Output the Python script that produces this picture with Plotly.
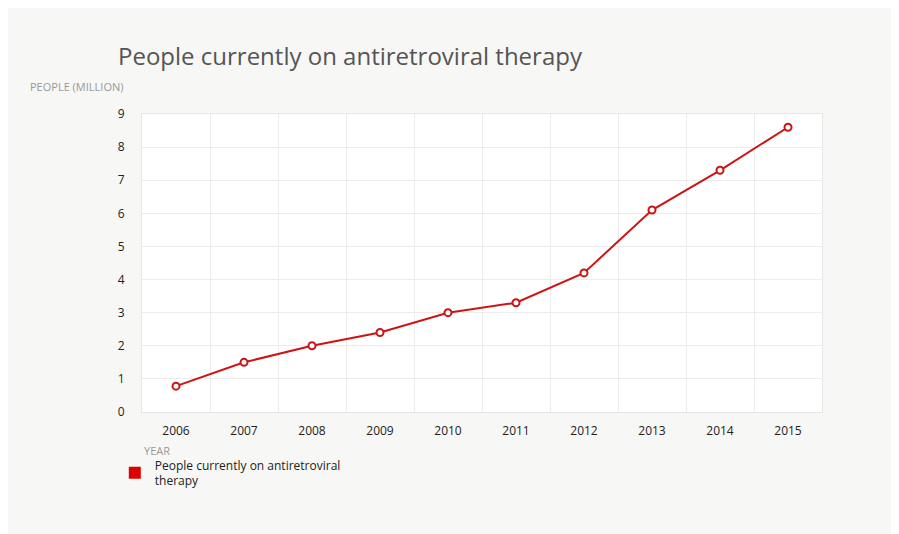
import plotly.graph_objects as go

years = [2006, 2007, 2008, 2009, 2010, 2011, 2012, 2013, 2014, 2015]
people = [0.78, 1.5, 2.0, 2.4, 3.0, 3.3, 4.2, 6.1, 7.3, 8.6]
series_name = "People currently on antiretroviral therapy"
red = "#cc1414"

fig = go.Figure()
fig.add_trace(go.Scatter(x=years, y=people, mode="lines+markers", showlegend=False,
                         line=dict(color=red, width=2),
                         marker=dict(size=7, color="white", line=dict(color=red, width=2))))
fig.add_trace(go.Scatter(x=[None], y=[None], mode="markers",
                         name="People currently on antiretroviral<br>therapy",
                         marker=dict(symbol="square", size=14, color="#dd0000")))

fig.update_layout(
    width=899, height=534, paper_bgcolor="#f7f7f5", plot_bgcolor="white",
    margin=dict(l=134, r=85, t=106, b=130),
    font=dict(family="Open Sans, Lato, sans-serif", size=12, color="#222"),
    title=dict(text="People currently on antiretroviral therapy", x=110/899, xanchor="left",
               y=1-49/534, yanchor="middle", font=dict(size=24, color="#555")),
    legend=dict(x=-0.04, xanchor="left", y=-0.13, yanchor="top", font=dict(size=12, color="#222"),
                bgcolor="rgba(0,0,0,0)", itemsizing="constant"),
    annotations=[
        dict(text="PEOPLE (MILLION)", xref="paper", yref="paper", x=-114/680, y=1+27/298,
             xanchor="left", yanchor="middle", showarrow=False, font=dict(size=11, color="#999")),
        dict(text="YEAR", xref="paper", yref="paper", x=0, y=-38/298,
             xanchor="left", yanchor="middle", showarrow=False, font=dict(size=11, color="#999")),
    ],
)
fig.update_xaxes(range=[2005.5, 2015.5], tickvals=years, showgrid=False, ticks="",
                 minor=dict(tick0=2005.5, dtick=1, showgrid=True, gridcolor="#ececec"),
                 showline=True, linecolor="#e6e6e6", mirror=True, zeroline=False,
                 ticklabelstandoff=8)
fig.update_yaxes(range=[0, 9], dtick=1, gridcolor="#ececec", showline=True, linecolor="#e6e6e6",
                 mirror=True, zeroline=False, ticklabelstandoff=14)
fig.write_html("out.html")
